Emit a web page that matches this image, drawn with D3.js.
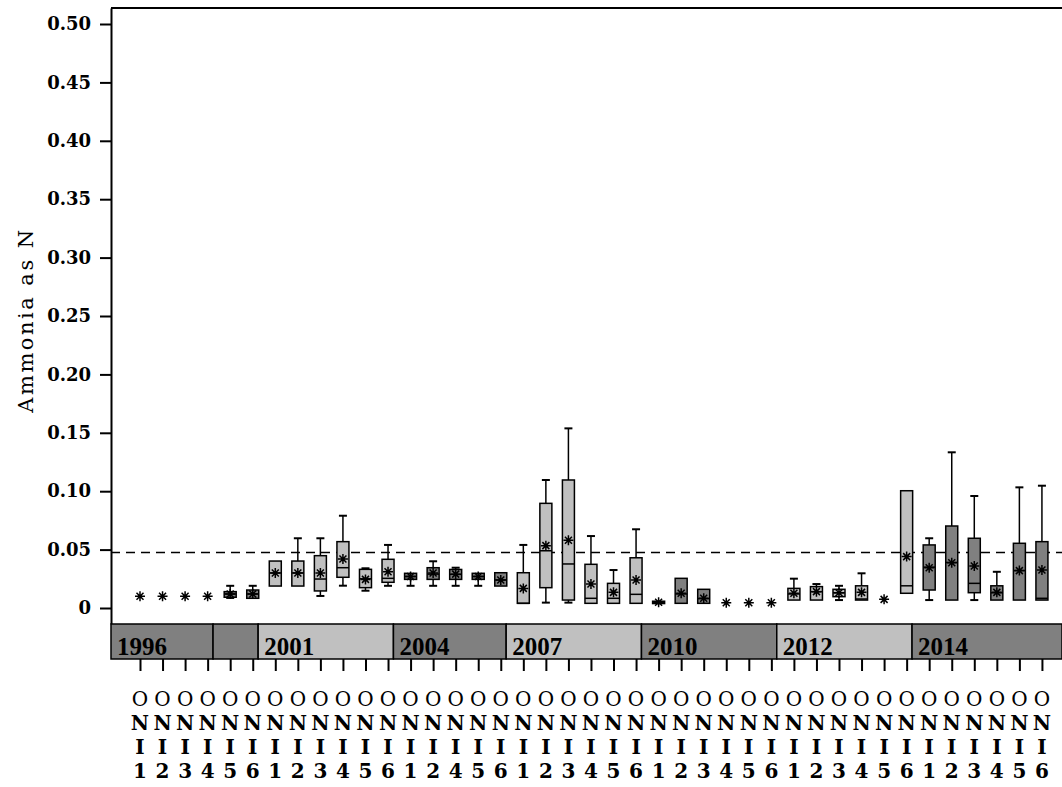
<!DOCTYPE html>
<html lang="en">
<head>
<meta charset="UTF-8">
<title>Ammonia as N</title>
<script src="https://d3js.org/d3.v7.min.js"></script>
<style>
  body { margin: 0; background: #fff; }
  svg { display: block; background: #fff; }
  .yaxis text { font-family: "DejaVu Serif", serif; font-weight: bold; font-size: 18px; fill: #000; }
  .xlab { font-family: "DejaVu Serif", serif; font-weight: bold; font-size: 20px; text-anchor: middle; fill: #000; }
  .yearlab { font-family: "Liberation Serif", serif; font-weight: bold; font-size: 25px; fill: #000; }
  .ytitle { font-family: "DejaVu Serif", serif; font-size: 21px; letter-spacing: 2.5px; text-anchor: middle; fill: #000; }
</style>
</head>
<body>
<svg width="1062" height="787"></svg>
<script>
// categories (one box per sampling event)
const labels = [
  "ONI1","ONI2","ONI3","ONI4","ONI5","ONI6",
  "ONI1","ONI2","ONI3","ONI4","ONI5","ONI6",
  "ONI1","ONI2","ONI4","ONI5","ONI6",
  "ONI1","ONI2","ONI3","ONI4","ONI5","ONI6",
  "ONI1","ONI2","ONI3","ONI4","ONI5","ONI6",
  "ONI1","ONI2","ONI3","ONI4","ONI5","ONI6",
  "ONI1","ONI2","ONI3","ONI4","ONI5","ONI6"
];

// year bands: label, index of last category in the band, shade
const bandYears = ["1996", "", "2001", "2004", "2007", "2010", "2012", "2014"];
const bandLast  = [3, 5, 11, 16, 22, 28, 34, 40];
const bandShade = ["dark", "dark", "light", "dark", "light", "dark", "light", "dark"];

// box statistics
const mins = [0.01,0.01,0.01,0.01,0.0086,0.0083,0.0188,0.0188,0.0103,0.0191,0.0148,0.019,
  0.019,0.019,0.019,0.019,0.0188,0.004,0.0046,0.0046,0.004,0.004,0.004,
  0.004,0.004,0.004,0.0045,0.0045,0.0045,0.0068,0.0068,0.0068,0.0068,0.0074,0.0126,
  0.0068,0.0068,0.0068,0.0068,0.0068,0.0068];
const q1s = [0.01,0.01,0.01,0.01,0.0092,0.0083,0.0188,0.0188,0.0146,0.0263,0.0174,0.022,
  0.0245,0.0245,0.0245,0.0245,0.0188,0.004,0.0174,0.0068,0.004,0.004,0.004,
  0.0038,0.004,0.004,0.0045,0.0045,0.0045,0.0068,0.0068,0.0097,0.0068,0.0074,0.0126,
  0.0154,0.0068,0.0131,0.0068,0.0068,0.0068];
const medians = [0.01,0.01,0.01,0.01,0.012,0.012,0.030,0.030,0.0248,0.0345,0.025,0.0254,
  0.027,0.029,0.0288,0.027,0.024,0.004,0.049,0.0377,0.0083,0.0083,0.0117,
  0.005,0.012,0.008,0.0045,0.0045,0.0045,0.012,0.014,0.013,0.0077,0.0074,0.019,
  0.035,0.039,0.0211,0.013,0.032,0.0083];
const q3s = [0.01,0.01,0.01,0.01,0.014,0.0154,0.0402,0.0402,0.0448,0.0568,0.0331,0.0417,
  0.0297,0.0345,0.033,0.0297,0.0302,0.0302,0.0896,0.1096,0.0374,0.0211,0.043,
  0.0058,0.0254,0.016,0.0045,0.0045,0.0045,0.0168,0.0183,0.016,0.019,0.0074,0.1004,
  0.054,0.0702,0.0597,0.019,0.0554,0.0568];
const maxs = [0.01,0.01,0.01,0.01,0.019,0.019,0.0402,0.0597,0.0597,0.079,0.034,0.054,
  0.0297,0.040,0.0345,0.0297,0.0302,0.054,0.1096,0.1538,0.0616,0.0325,0.0674,
  0.0058,0.0254,0.016,0.0045,0.0045,0.0045,0.0251,0.0205,0.019,0.0297,0.0074,0.1004,
  0.0597,0.1333,0.0959,0.031,0.1033,0.1047];
const means = [0.01,0.01,0.01,0.01,0.012,0.012,0.030,0.030,0.030,0.042,0.0245,0.031,
  0.027,0.030,0.029,0.027,0.024,0.0168,0.0534,0.058,0.0205,0.0134,0.024,
  0.005,0.0126,0.0083,0.0045,0.0045,0.0045,0.0126,0.014,0.013,0.0134,0.0074,0.044,
  0.0345,0.0388,0.036,0.0134,0.032,0.0325];

const refLine = 0.0475;
const yTicks = [0, 0.05, 0.10, 0.15, 0.20, 0.25, 0.30, 0.35, 0.40, 0.45, 0.50];

const shadeColor = { dark: "#808080", light: "#c0c0c0" };

const svg = d3.select("svg");
const W = 1062;

const x = d3.scaleLinear().domain([-1.286, 40.89]).range([111, W]);
const y = d3.scaleLinear().domain([-0.0137, 0.5137]).range([624, 8]);

const bandTop = 624, bandBottom = 659;

// which band each category falls into
const bandOf = labels.map((_, i) => bandLast.findIndex(l => i <= l));

const data = labels.map((lab, i) => ({
  i, lab,
  min: mins[i], q1: q1s[i], med: medians[i], q3: q3s[i], max: maxs[i], mean: means[i],
  fill: shadeColor[bandShade[bandOf[i]]]
}));

// reference line
svg.append("line")
  .attr("x1", x.range()[0]).attr("x2", W)
  .attr("y1", y(refLine)).attr("y2", y(refLine))
  .attr("stroke", "#000").attr("stroke-width", 1.5)
  .attr("stroke-dasharray", "9,6");

// boxes
const boxW = 12, capW = 8;
const g = svg.selectAll("g.box").data(data).enter().append("g")
  .attr("class", "box")
  .attr("transform", d => `translate(${x(d.i)},0)`);

g.each(function (d) {
  const s = d3.select(this);
  if (d.max > d.q3) {
    s.append("line").attr("x1", 0).attr("x2", 0).attr("y1", y(d.q3)).attr("y2", y(d.max))
      .attr("stroke", "#000").attr("stroke-width", 1.5);
    s.append("line").attr("x1", -capW / 2).attr("x2", capW / 2).attr("y1", y(d.max)).attr("y2", y(d.max))
      .attr("stroke", "#000").attr("stroke-width", 2);
  }
  if (d.min < d.q1) {
    s.append("line").attr("x1", 0).attr("x2", 0).attr("y1", y(d.q1)).attr("y2", y(d.min))
      .attr("stroke", "#000").attr("stroke-width", 1.5);
    s.append("line").attr("x1", -capW / 2).attr("x2", capW / 2).attr("y1", y(d.min)).attr("y2", y(d.min))
      .attr("stroke", "#000").attr("stroke-width", 2);
  }
  if (d.q3 > d.q1) {
    s.append("rect")
      .attr("x", -boxW / 2).attr("width", boxW)
      .attr("y", y(d.q3)).attr("height", y(d.q1) - y(d.q3))
      .attr("fill", d.fill).attr("stroke", "#000").attr("stroke-width", 1.5);
    s.append("line").attr("x1", -boxW / 2).attr("x2", boxW / 2).attr("y1", y(d.med)).attr("y2", y(d.med))
      .attr("stroke", "#000").attr("stroke-width", 1.5);
  }
  // mean marker (asterisk)
  const my = y(d.mean), r = 5;
  s.append("path")
    .attr("d", `M${-r},${my}H${r}M0,${my - r}V${my + r}` +
               `M${-r * 0.7},${my - r * 0.7}L${r * 0.7},${my + r * 0.7}` +
               `M${-r * 0.7},${my + r * 0.7}L${r * 0.7},${my - r * 0.7}`)
    .attr("stroke", "#000").attr("stroke-width", 1.5).attr("fill", "none");
});

// top border
svg.append("line")
  .attr("x1", x.range()[0]).attr("x2", W).attr("y1", 8).attr("y2", 8)
  .attr("stroke", "#000").attr("stroke-width", 2);

// y axis
const yAxis = d3.axisLeft(y)
  .tickValues(yTicks)
  .tickSize(11)
  .tickSizeOuter(0)
  .tickPadding(9)
  .tickFormat(d => d === 0 ? "0" : d3.format(".2f")(d));

svg.append("g")
  .attr("class", "yaxis")
  .attr("transform", `translate(${x.range()[0]},0)`)
  .call(yAxis)
  .call(a => a.selectAll("line, path").attr("stroke", "#000").attr("stroke-width", 2));

// year bands
const bands = bandYears.map((yr, k) => ({
  yr,
  x0: k === 0 ? x.range()[0] : x(bandLast[k - 1] + 0.24),
  x1: k === bandYears.length - 1 ? W : x(bandLast[k] + 0.24),
  fill: shadeColor[bandShade[k]]
}));

svg.selectAll("rect.band").data(bands).enter().append("rect")
  .attr("class", "band")
  .attr("x", d => d.x0).attr("width", d => d.x1 - d.x0)
  .attr("y", bandTop).attr("height", bandBottom - bandTop)
  .attr("fill", d => d.fill).attr("stroke", "#000").attr("stroke-width", 1.5);

svg.selectAll("text.yearlab").data(bands).enter().append("text")
  .attr("class", "yearlab")
  .attr("x", d => d.x0 + 6).attr("y", 655)
  .text(d => d.yr);

// x ticks under bands
const xAxis = d3.axisBottom(x)
  .tickValues(d3.range(labels.length))
  .tickSize(12)
  .tickSizeOuter(0)
  .tickFormat("");

svg.append("g")
  .attr("transform", `translate(0,${bandBottom})`)
  .call(xAxis)
  .call(a => a.select(".domain").remove())
  .call(a => a.selectAll("line").attr("stroke", "#000").attr("stroke-width", 2));

// stacked category labels
const rowY = [706, 730, 754, 778];
data.forEach(d => {
  d.lab.split("").forEach((ch, j) => {
    svg.append("text")
      .attr("class", "xlab")
      .attr("x", x(d.i))
      .attr("y", rowY[j])
      .style("font-weight", ch === "O" ? "normal" : "bold")
      .text(ch);
  });
});

// y title
svg.append("text")
  .attr("class", "ytitle")
  .attr("transform", "translate(33,320) rotate(-90)")
  .text("Ammonia as N");
</script>
</body>
</html>
